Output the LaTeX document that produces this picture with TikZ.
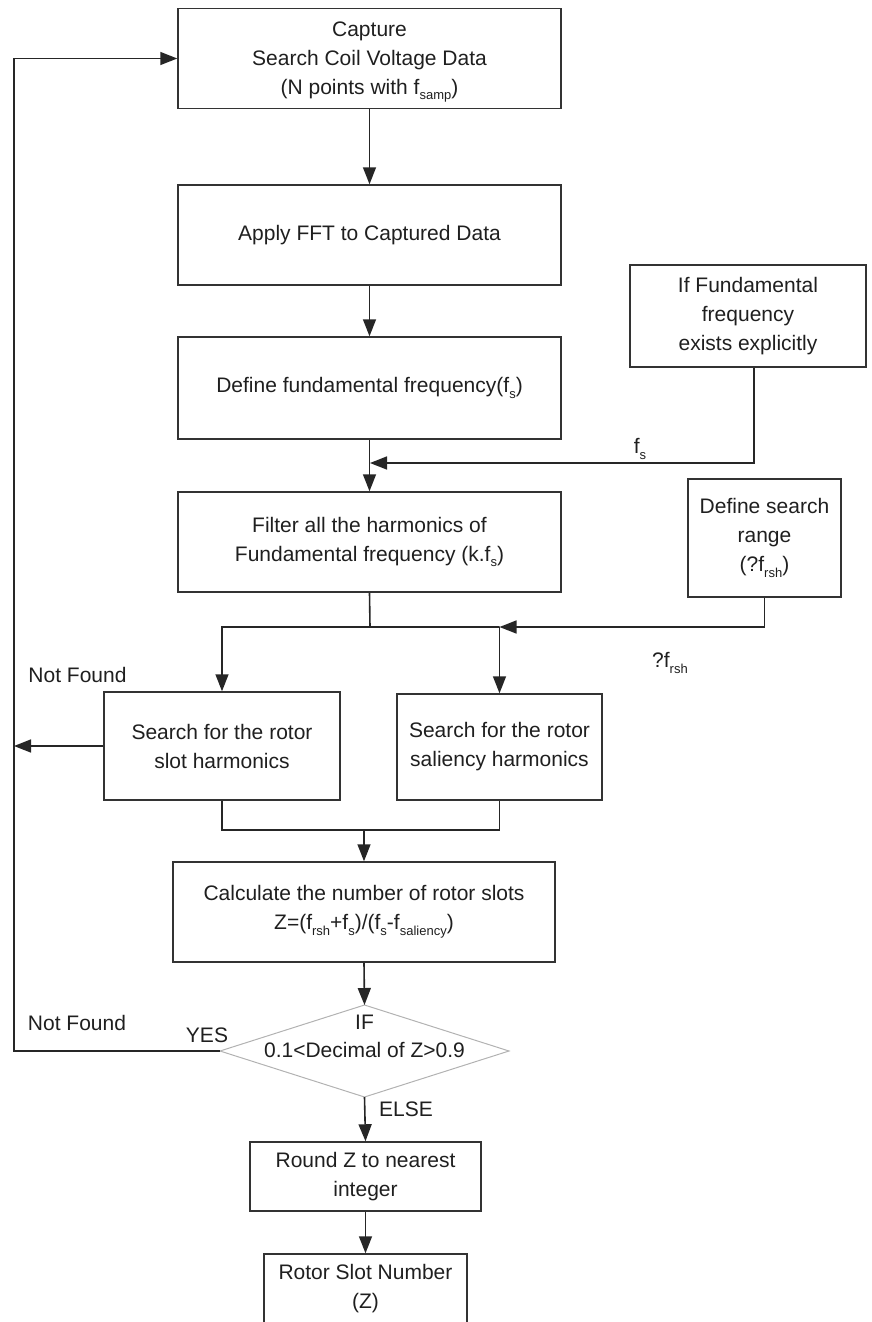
\documentclass[tikz,border=0pt]{standalone}
\usepackage{fontspec}
\setmainfont{Liberation Sans}
\usetikzlibrary{arrows.meta,calc}
\newcommand\sbs[1]{\raisebox{-0.28em}{\fontsize{13}{13}\selectfont #1}}
\begin{document}
\begin{tikzpicture}[x=1pt,y=-1pt,
  box/.style={draw=black!80, line width=1.5pt, rectangle, inner sep=0pt, align=center,
    font=\fontsize{21}{29}\selectfont, text=black!88},
  txt/.style={inner sep=0pt, align=center, font=\fontsize{21}{29}\selectfont, text=black!88},
  ln/.style={line width=1.6pt, draw=black!85},
  arr/.style={ln, -{Triangle[length=17pt,width=13pt]}},
  dia/.style={draw=black!30, line width=1pt}]
\useasboundingbox (0,0) rectangle (872,1322);
\clip (0,0) rectangle (872,1322);

% boxes
\node[box, minimum width=383, minimum height=100] (b1) at (369.5,58.5) {};
\node[txt] (b1txt) at (369.5,62)
  {Capture\\Search Coil Voltage Data\\(N points with f\sbs{samp})};
\node[box, minimum width=383, minimum height=100] (b2) at (369.5,235)
  {Apply FFT to Captured Data};
\node[box, minimum width=383, minimum height=102] (b3) at (369.5,388)
  {Define fundamental frequency(f\sbs{s})};
\node[box, minimum width=236, minimum height=102] (bif) at (748,316)
  {If Fundamental\\frequency\\exists explicitly};
\node[box, minimum width=383, minimum height=100] (b4) at (369.5,542)
  {Filter all the harmonics of\\Fundamental frequency (k.f\sbs{s})};
\node[box, minimum width=153, minimum height=118] (bds) at (764.5,538)
  {Define search\\range\\(?f\sbs{rsh})};
\node[box, minimum width=236, minimum height=108] (bslot) at (222,746)
  {Search for the rotor\\slot harmonics};
\node[box, minimum width=205, minimum height=106] (bsal) at (499.5,747)
  {Search for the rotor\\saliency harmonics};
\node[box, minimum width=382, minimum height=100] (bcalc) at (364,912)
  {Calculate the number of rotor slots\\Z=(f\sbs{rsh}+f\sbs{s})/(f\sbs{s}-f\sbs{saliency})};
\node[box, minimum width=231, minimum height=69] (bround) at (365.5,1176.5)
  {Round Z to nearest\\integer};
\node[box, minimum width=203, minimum height=92] (brotor) at (365.5,1300) {};
\node[txt] (rotortxt) at (365.5,1288.5) {Rotor Slot Number\\(Z)};

% decision diamond
\coordinate (dtop) at (364.5,1005);
\coordinate (dright) at (509,1051);
\coordinate (dbot) at (364.5,1097);
\coordinate (dleft) at (220,1051);
\draw[dia] (dtop) -- (dright) -- (dbot) -- (dleft) -- cycle;
\node[txt, font=\fontsize{21}{28}\selectfont] (dtxt) at (364.5,1036) {IF\\0.1<Decimal of Z>0.9};

% labels
\node[txt] (lfs) at (640,449) {f\sbs{s}};
\node[txt] (lfrsh) at (670,663) {?f\sbs{rsh}};
\node[txt] (lnf1) at (77.5,675) {Not Found};
\node[txt] (lnf2) at (77,1023) {Not Found};
\node[txt] (lyes) at (207,1035) {YES};
\node[txt] (lelse) at (406,1109) {ELSE};

% junctions
\coordinate (lp) at (14,58.5);
\coordinate (j1) at (370,463);
\coordinate (j2) at (370,627);
\coordinate (j3) at (499.5,627);
\coordinate (j4) at (364,830);

% connectors
\draw[arr] (b1) -- (b2);
\draw[arr] (b2) -- (b3);
\draw[arr] (b3) -- (b4);
\draw[arr] ([xshift=6pt]bif.south) |- (j1);
\draw[ln] (b4.south) -- (j2) -- (j3);
\draw[arr] (j2) -| (bslot.north);
\draw[arr] (bds.south) |- (j3);
\draw[arr] (j3) -- (bsal.north);
\draw[arr] (bslot.west) -- (bslot.west -| lp);
\draw[ln] (bslot.south) |- (j4) -| (bsal.south);
\draw[arr] (j4) -- (bcalc.north);
\draw[arr] (bcalc.south) -- (dtop);
\draw[arr] (dleft) -| (lp) -- (b1.west);
\draw[arr] (dbot) -- (bround.north);
\draw[arr] (bround.south) -- (brotor.north);
\end{tikzpicture}
\end{document}
